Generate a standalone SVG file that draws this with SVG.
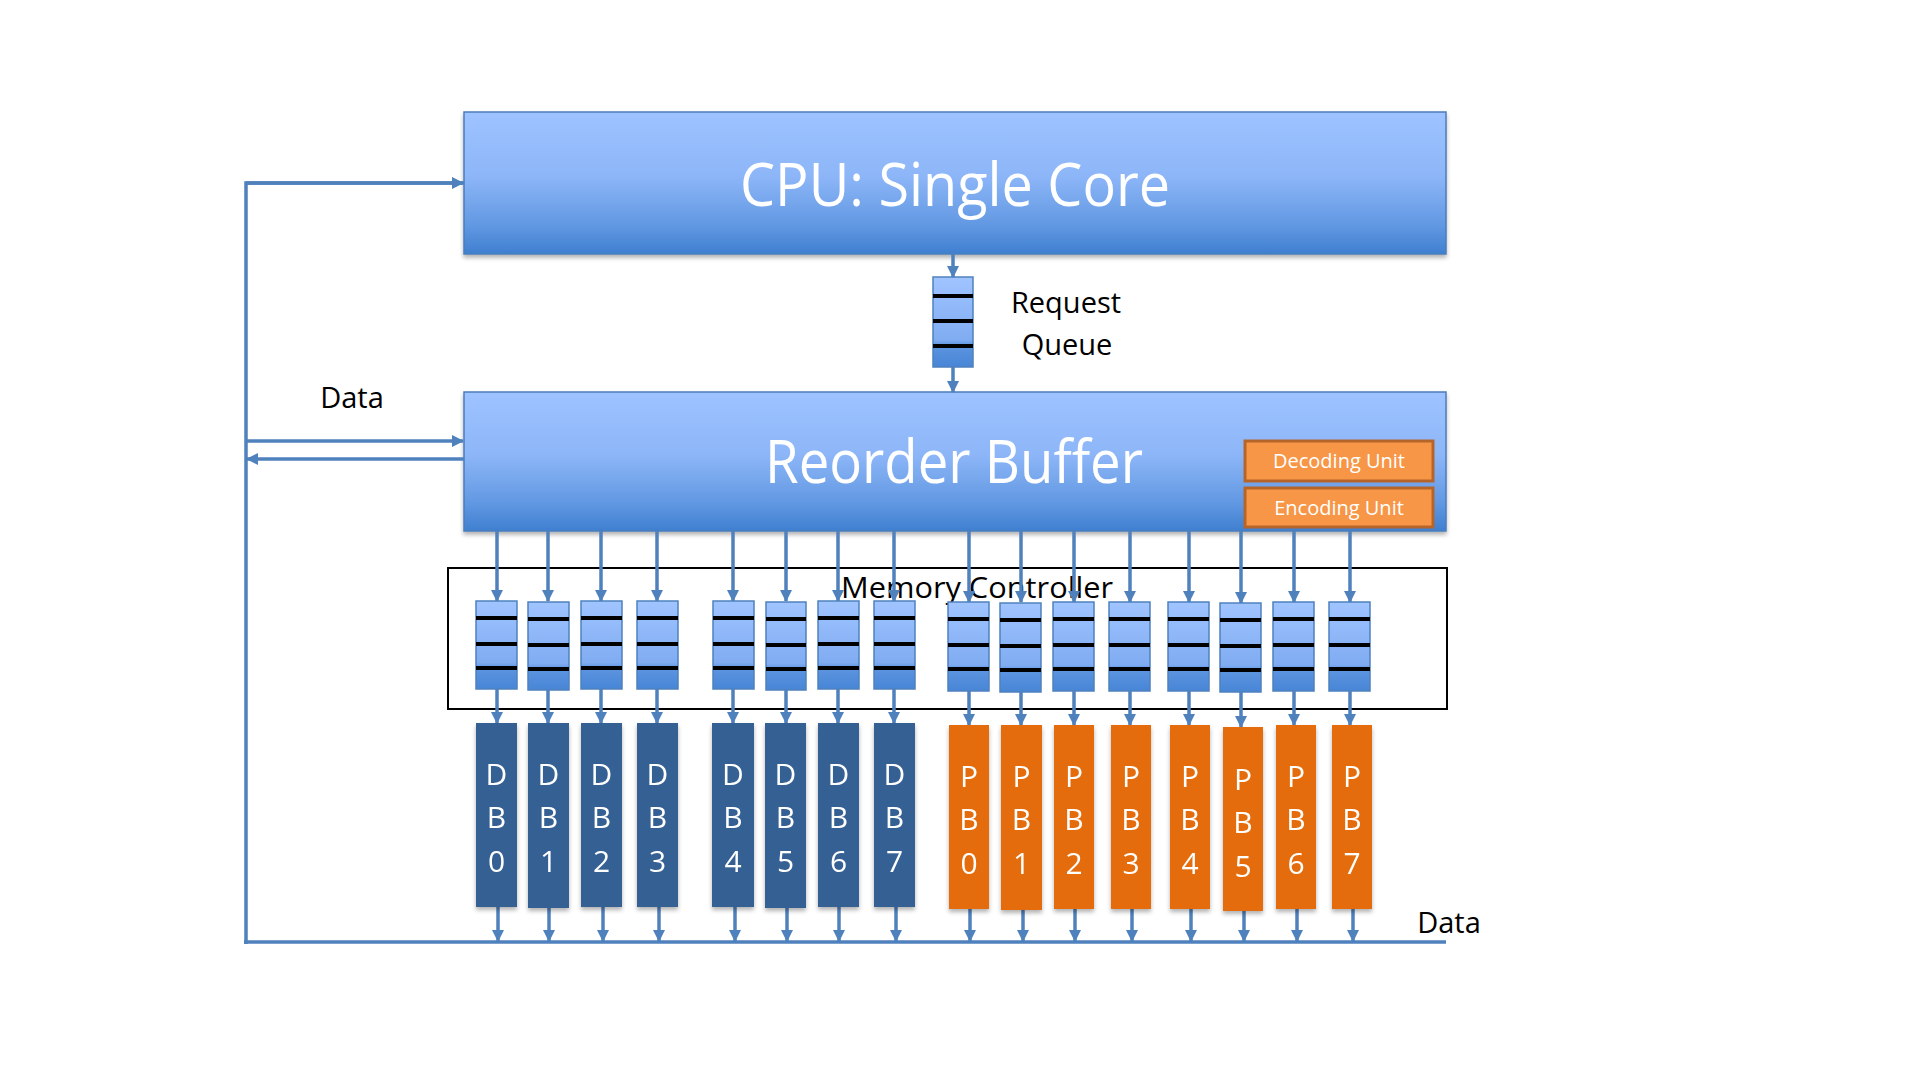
<svg xmlns="http://www.w3.org/2000/svg" width="1920" height="1080" viewBox="0 0 1920 1080">
<defs>
<linearGradient id="gBig" x1="0" y1="0" x2="0" y2="1">
<stop offset="0" stop-color="#9EC3FF"/>
<stop offset="0.45" stop-color="#8DB6F8"/>
<stop offset="0.8" stop-color="#6198E2"/>
<stop offset="1" stop-color="#3F7FD0"/>
</linearGradient>
<linearGradient id="gQ" x1="0" y1="0" x2="0" y2="1">
<stop offset="0" stop-color="#A0C4FF"/>
<stop offset="0.7" stop-color="#80ACF2"/>
<stop offset="0.76" stop-color="#5D95E0"/>
<stop offset="1" stop-color="#4785D6"/>
</linearGradient>
<filter id="sh" x="-5%" y="-5%" width="110%" height="115%">
<feDropShadow dx="0" dy="3" stdDeviation="2" flood-color="#000" flood-opacity="0.3"/>
</filter>
<marker id="ah" markerUnits="userSpaceOnUse" markerWidth="12" markerHeight="12" refX="11" refY="6" orient="auto">
<path d="M0,0 L12,6 L0,12 z" fill="#4F81BD"/>
</marker>
</defs>
<style>
.big{fill:url(#gBig);stroke:#4A7EBB;stroke-width:1.5}
.bigt{font-family:"Open Sans","Liberation Sans",sans-serif;font-size:60px;fill:#fff;text-anchor:middle}
.lbl{font-family:"Open Sans","Liberation Sans",sans-serif;font-size:29px;fill:#000;text-anchor:middle}
.unit{fill:#F79646;stroke:#B5652A;stroke-width:3}
.unitt{font-family:"Open Sans","Liberation Sans",sans-serif;font-size:20px;fill:#fff;text-anchor:middle}
.q{fill:url(#gQ);stroke:#4F81BD;stroke-width:1.5}
.ql{stroke:#000;stroke-width:4}
.db{fill:#366194}
.pb{fill:#E46C0A}
.bt{font-family:"Open Sans","Liberation Sans",sans-serif;font-size:30px;fill:#fff;text-anchor:middle}
.c{stroke:#4F81BD;stroke-width:3.5;fill:none}
.ca{stroke:#4F81BD;stroke-width:3.5;fill:none;marker-end:url(#ah)}
</style>
<rect width="1920" height="1080" fill="#fff"/>

<g id="cpu" filter="url(#sh)">
<rect class="big" x="464" y="112" width="982" height="142"/>
<text class="bigt" x="955" y="206" textLength="430" lengthAdjust="spacingAndGlyphs">CPU: Single Core</text>
</g>

<g id="request-queue">
<rect class="q" x="933" y="277" width="40" height="90"/>
<line class="ql" x1="933" y1="296" x2="973" y2="296"/>
<line class="ql" x1="933" y1="321" x2="973" y2="321"/>
<line class="ql" x1="933" y1="346" x2="973" y2="346"/>
<text class="lbl" x="1066" y="313">Request</text>
<text class="lbl" x="1067" y="355">Queue</text>
</g>

<g id="reorder-buffer">
<rect class="big" x="464" y="392" width="982" height="139" filter="url(#sh)"/>
<text class="bigt" x="954" y="483" textLength="378" lengthAdjust="spacingAndGlyphs">Reorder Buffer</text>
</g>
<g id="decoding-unit">
<rect class="unit" x="1245" y="441" width="188" height="40"/>
<text class="unitt" x="1339" y="468">Decoding Unit</text>
</g>
<g id="encoding-unit">
<rect class="unit" x="1245" y="488" width="188" height="39"/>
<text class="unitt" x="1339" y="515">Encoding Unit</text>
</g>

<g id="memory-controller">
<rect x="448" y="568" width="999" height="141" fill="none" stroke="#000" stroke-width="2"/>
<text class="lbl" x="977" y="598" textLength="272" lengthAdjust="spacingAndGlyphs">Memory Controller</text>
</g>

<g id="labels">
<text class="lbl" x="352" y="408">Data</text>
<text class="lbl" x="1449" y="933">Data</text>
</g>

<g id="connectors">
<line class="ca" x1="953" y1="254" x2="953" y2="277"/>
<line class="ca" x1="953" y1="367" x2="953" y2="392"/>
<polyline class="c" points="464,183 246,183 246,944"/>
<line class="ca" x1="246" y1="183" x2="463" y2="183"/>
<line class="ca" x1="246" y1="441" x2="463" y2="441"/>
<line class="ca" x1="464" y1="459" x2="247" y2="459"/>
<line class="c" x1="244" y1="942" x2="1446" y2="942"/>
<g id="rob-to-queues">
<line class="ca" x1="497" y1="531" x2="497" y2="601"/>
<line class="ca" x1="548" y1="531" x2="548" y2="601"/>
<line class="ca" x1="601" y1="531" x2="601" y2="601"/>
<line class="ca" x1="657" y1="531" x2="657" y2="601"/>
<line class="ca" x1="733" y1="531" x2="733" y2="601"/>
<line class="ca" x1="786" y1="531" x2="786" y2="601"/>
<line class="ca" x1="838" y1="531" x2="838" y2="601"/>
<line class="ca" x1="894" y1="531" x2="894" y2="601"/>
<line class="ca" x1="969" y1="531" x2="969" y2="602"/>
<line class="ca" x1="1021" y1="531" x2="1021" y2="602"/>
<line class="ca" x1="1074" y1="531" x2="1074" y2="602"/>
<line class="ca" x1="1130" y1="531" x2="1130" y2="602"/>
<line class="ca" x1="1189" y1="531" x2="1189" y2="602"/>
<line class="ca" x1="1241" y1="531" x2="1241" y2="603"/>
<line class="ca" x1="1294" y1="531" x2="1294" y2="602"/>
<line class="ca" x1="1350" y1="531" x2="1350" y2="602"/>
</g>
<g id="queues-to-banks">
<line class="ca" x1="497" y1="689" x2="497" y2="723"/>
<line class="ca" x1="548" y1="690" x2="548" y2="723"/>
<line class="ca" x1="601" y1="689" x2="601" y2="723"/>
<line class="ca" x1="657" y1="689" x2="657" y2="723"/>
<line class="ca" x1="733" y1="689" x2="733" y2="723"/>
<line class="ca" x1="786" y1="690" x2="786" y2="723"/>
<line class="ca" x1="838" y1="689" x2="838" y2="723"/>
<line class="ca" x1="894" y1="689" x2="894" y2="723"/>
<line class="ca" x1="969" y1="691" x2="969" y2="725"/>
<line class="ca" x1="1021" y1="692" x2="1021" y2="725"/>
<line class="ca" x1="1074" y1="691" x2="1074" y2="725"/>
<line class="ca" x1="1130" y1="691" x2="1130" y2="725"/>
<line class="ca" x1="1189" y1="691" x2="1189" y2="725"/>
<line class="ca" x1="1241" y1="692" x2="1241" y2="727"/>
<line class="ca" x1="1294" y1="691" x2="1294" y2="725"/>
<line class="ca" x1="1350" y1="691" x2="1350" y2="725"/>
</g>
<g id="banks-to-bus">
<line class="ca" x1="498" y1="907" x2="498" y2="941"/>
<line class="ca" x1="549" y1="908" x2="549" y2="941"/>
<line class="ca" x1="603" y1="907" x2="603" y2="941"/>
<line class="ca" x1="659" y1="907" x2="659" y2="941"/>
<line class="ca" x1="735" y1="907" x2="735" y2="941"/>
<line class="ca" x1="787" y1="908" x2="787" y2="941"/>
<line class="ca" x1="839" y1="907" x2="839" y2="941"/>
<line class="ca" x1="896" y1="907" x2="896" y2="941"/>
<line class="ca" x1="970" y1="909" x2="970" y2="941"/>
<line class="ca" x1="1023" y1="910" x2="1023" y2="941"/>
<line class="ca" x1="1075" y1="909" x2="1075" y2="941"/>
<line class="ca" x1="1132" y1="909" x2="1132" y2="941"/>
<line class="ca" x1="1191" y1="909" x2="1191" y2="941"/>
<line class="ca" x1="1244" y1="911" x2="1244" y2="941"/>
<line class="ca" x1="1297" y1="909" x2="1297" y2="941"/>
<line class="ca" x1="1353" y1="909" x2="1353" y2="941"/>
</g>
</g>

<g id="mc-queues">
<g id="q-db0"><rect class="q" x="476" y="601" width="41" height="88"/><path class="ql" d="M476,618h41M476,644h41M476,668h41"/></g>
<g id="q-db1"><rect class="q" x="528" y="602" width="41" height="88"/><path class="ql" d="M528,619h41M528,645h41M528,669h41"/></g>
<g id="q-db2"><rect class="q" x="581" y="601" width="41" height="88"/><path class="ql" d="M581,618h41M581,644h41M581,668h41"/></g>
<g id="q-db3"><rect class="q" x="637" y="601" width="41" height="88"/><path class="ql" d="M637,618h41M637,644h41M637,668h41"/></g>
<g id="q-db4"><rect class="q" x="713" y="601" width="41" height="88"/><path class="ql" d="M713,618h41M713,644h41M713,668h41"/></g>
<g id="q-db5"><rect class="q" x="766" y="602" width="40" height="88"/><path class="ql" d="M766,619h40M766,645h40M766,669h40"/></g>
<g id="q-db6"><rect class="q" x="818" y="601" width="41" height="88"/><path class="ql" d="M818,618h41M818,644h41M818,668h41"/></g>
<g id="q-db7"><rect class="q" x="874" y="601" width="41" height="88"/><path class="ql" d="M874,618h41M874,644h41M874,668h41"/></g>
<g id="q-pb0"><rect class="q" x="948" y="602" width="41" height="89"/><path class="ql" d="M948,619h41M948,645h41M948,669h41"/></g>
<g id="q-pb1"><rect class="q" x="1000" y="603" width="41" height="89"/><path class="ql" d="M1000,620h41M1000,646h41M1000,670h41"/></g>
<g id="q-pb2"><rect class="q" x="1053" y="602" width="41" height="89"/><path class="ql" d="M1053,619h41M1053,645h41M1053,669h41"/></g>
<g id="q-pb3"><rect class="q" x="1109" y="602" width="41" height="89"/><path class="ql" d="M1109,619h41M1109,645h41M1109,669h41"/></g>
<g id="q-pb4"><rect class="q" x="1168" y="602" width="41" height="89"/><path class="ql" d="M1168,619h41M1168,645h41M1168,669h41"/></g>
<g id="q-pb5"><rect class="q" x="1220" y="603" width="41" height="89"/><path class="ql" d="M1220,620h41M1220,646h41M1220,670h41"/></g>
<g id="q-pb6"><rect class="q" x="1273" y="602" width="41" height="89"/><path class="ql" d="M1273,619h41M1273,645h41M1273,669h41"/></g>
<g id="q-pb7"><rect class="q" x="1329" y="602" width="41" height="89"/><path class="ql" d="M1329,619h41M1329,645h41M1329,669h41"/></g>
</g>

<g id="banks" filter="url(#sh)">
<g id="DB0"><rect class="db" x="476" y="723" width="41" height="184"/><text class="bt" x="496.5" y="785">D</text><text class="bt" x="496.5" y="828">B</text><text class="bt" x="496.5" y="872">0</text></g>
<g id="DB1"><rect class="db" x="528" y="723" width="41" height="185"/><text class="bt" x="548.5" y="785">D</text><text class="bt" x="548.5" y="828">B</text><text class="bt" x="548.5" y="872">1</text></g>
<g id="DB2"><rect class="db" x="581" y="723" width="41" height="184"/><text class="bt" x="601.5" y="785">D</text><text class="bt" x="601.5" y="828">B</text><text class="bt" x="601.5" y="872">2</text></g>
<g id="DB3"><rect class="db" x="637" y="723" width="41" height="184"/><text class="bt" x="657.5" y="785">D</text><text class="bt" x="657.5" y="828">B</text><text class="bt" x="657.5" y="872">3</text></g>
<g id="DB4"><rect class="db" x="712" y="723" width="42" height="184"/><text class="bt" x="733" y="785">D</text><text class="bt" x="733" y="828">B</text><text class="bt" x="733" y="872">4</text></g>
<g id="DB5"><rect class="db" x="765" y="723" width="41" height="185"/><text class="bt" x="785.5" y="785">D</text><text class="bt" x="785.5" y="828">B</text><text class="bt" x="785.5" y="872">5</text></g>
<g id="DB6"><rect class="db" x="818" y="723" width="41" height="184"/><text class="bt" x="838.5" y="785">D</text><text class="bt" x="838.5" y="828">B</text><text class="bt" x="838.5" y="872">6</text></g>
<g id="DB7"><rect class="db" x="874" y="723" width="41" height="184"/><text class="bt" x="894.5" y="785">D</text><text class="bt" x="894.5" y="828">B</text><text class="bt" x="894.5" y="872">7</text></g>
<g id="PB0"><rect class="pb" x="949" y="725" width="40" height="184"/><text class="bt" x="969" y="787">P</text><text class="bt" x="969" y="830">B</text><text class="bt" x="969" y="874">0</text></g>
<g id="PB1"><rect class="pb" x="1001" y="725" width="41" height="185"/><text class="bt" x="1021.5" y="787">P</text><text class="bt" x="1021.5" y="830">B</text><text class="bt" x="1021.5" y="874">1</text></g>
<g id="PB2"><rect class="pb" x="1054" y="725" width="40" height="184"/><text class="bt" x="1074" y="787">P</text><text class="bt" x="1074" y="830">B</text><text class="bt" x="1074" y="874">2</text></g>
<g id="PB3"><rect class="pb" x="1111" y="725" width="40" height="184"/><text class="bt" x="1131" y="787">P</text><text class="bt" x="1131" y="830">B</text><text class="bt" x="1131" y="874">3</text></g>
<g id="PB4"><rect class="pb" x="1170" y="725" width="40" height="184"/><text class="bt" x="1190" y="787">P</text><text class="bt" x="1190" y="830">B</text><text class="bt" x="1190" y="874">4</text></g>
<g id="PB5"><rect class="pb" x="1223" y="727" width="40" height="184"/><text class="bt" x="1243" y="790">P</text><text class="bt" x="1243" y="833">B</text><text class="bt" x="1243" y="877">5</text></g>
<g id="PB6"><rect class="pb" x="1276" y="725" width="40" height="184"/><text class="bt" x="1296" y="787">P</text><text class="bt" x="1296" y="830">B</text><text class="bt" x="1296" y="874">6</text></g>
<g id="PB7"><rect class="pb" x="1332" y="725" width="40" height="184"/><text class="bt" x="1352" y="787">P</text><text class="bt" x="1352" y="830">B</text><text class="bt" x="1352" y="874">7</text></g>
</g>
</svg>
